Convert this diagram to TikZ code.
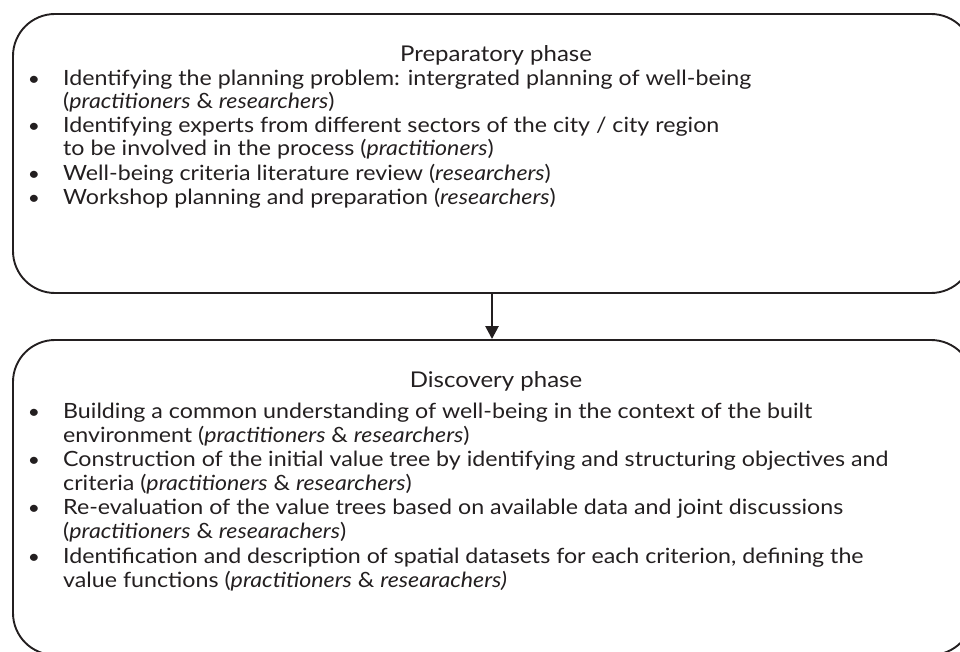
\documentclass[tikz,border=0pt]{standalone}
\usepackage{fontspec}
\setmainfont{Lato}[FakeStretch=1.105]
\usepackage{tikz}
\usetikzlibrary{arrows.meta, positioning}

\definecolor{ink}{HTML}{231F20}

\tikzset{
  phasebox/.style={draw=ink, line width=1.9pt, rounded corners=42pt, inner sep=0pt},
  phasetitle/.style={text=ink, font=\fontsize{21.7}{26}\selectfont, anchor=base},
  itemtext/.style={text=ink, font=\fontsize{21}{24}\selectfont, align=left, anchor=base west, inner sep=0pt},
  bulletmark/.style={text=ink, font=\fontsize{19}{24}\selectfont, anchor=base, inner sep=0pt},
}

\begin{document}
\begin{tikzpicture}[x=1pt, y=-1pt]
        \useasboundingbox (0,0) rectangle (960,652);

        % the two phase boxes
        \node[phasebox, minimum width=960pt, minimum height=279pt] (prep) at (493,153.5) {};
        \node[phasebox, minimum width=960pt, minimum height=315pt] (disc) at (493,497.5) {};

        % arrow between the phases
        \draw[ink, line width=2.6pt, -{Triangle[length=13pt, width=13pt]}] (prep.south -| 492,0) -- (disc.north -| 492,0);

        % preparatory phase (multi-line items sit on their last line)
        \node[phasetitle] (preptitle) at (496,62) {Preparatory phase};
        \node[bulletmark] (pb1) at (34,86) {•};
        \node[itemtext, font=\fontsize{21}{23}\selectfont] (pi1) at (63,109) {Identifying the planning problem: intergrated planning of well-being\\(\textit{practitioners} \& \textit{researchers})};
        \node[bulletmark] (pb2) at (34,133) {•};
        \node[itemtext, font=\fontsize{21}{23}\selectfont] (pi2) at (63,156) {Identifying experts from different sectors of the city / city region\\to be involved in the process (\textit{practitioners})};
        \node[bulletmark] (pb3) at (34,181) {•};
        \node[itemtext] (pi3) at (63,181) {Well-being criteria literature review (\textit{researchers})};
        \node[bulletmark] (pb4) at (34,205) {•};
        \node[itemtext] (pi4) at (63,205) {Workshop planning and preparation (\textit{researchers})};

        % discovery phase
        \node[phasetitle] (disctitle) at (496,387) {Discovery phase};
        \node[bulletmark] (db1) at (34,418.5) {•};
        \node[itemtext] (di1) at (63,442.5) {Building a common understanding of well-being in the context of the built\\environment (\textit{practitioners} \& \textit{researchers})};
        \node[bulletmark] (db2) at (34,466.5) {•};
        \node[itemtext] (di2) at (63,490.5) {Construction of the initial value tree by identifying and structuring objectives and\\criteria (\textit{practitioners} \& \textit{researchers})};
        \node[bulletmark] (db3) at (34,514.5) {•};
        \node[itemtext] (di3) at (63,538.5) {Re-evaluation of the value trees based on available data and joint discussions\\(\textit{practitioners} \& \textit{researachers})};
        \node[bulletmark] (db4) at (34,563.5) {•};
        \node[itemtext] (di4) at (63,587.5) {Identification and description of spatial datasets for each criterion, defining the\\value functions (\textit{practitioners} \& \textit{researachers)}};
\end{tikzpicture}
\end{document}
